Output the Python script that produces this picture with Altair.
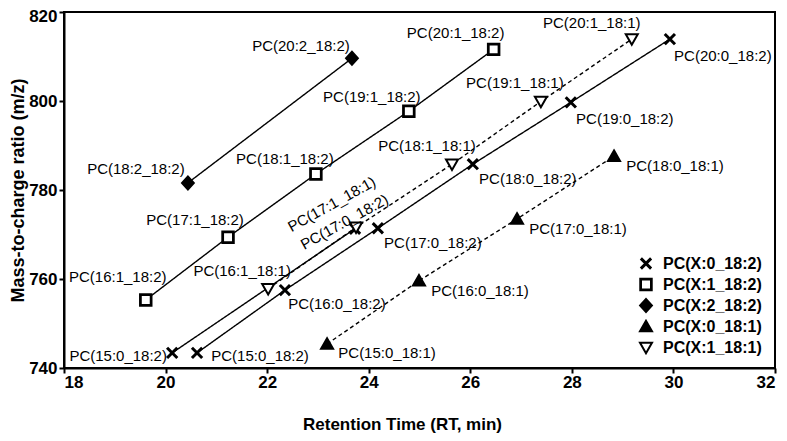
import altair as alt
import pandas as pd

FONT = "Liberation Sans"

# ---------------- data ----------------
series_names = ["PC(X:0_18:2)", "PC(X:1_18:2)", "PC(X:2_18:2)", "PC(X:0_18:1)", "PC(X:1_18:1)"]

# PC(X:0_18:2) main line
x0_182_rt = [20.62, 22.35, 24.18, 26.05, 27.98, 29.93]
x0_182_mz = [743.4, 757.5, 771.4, 785.8, 799.7, 813.9]
x0_182_lab = ["PC(15:0_18:2)", "PC(16:0_18:2)", "PC(17:0_18:2)", "PC(18:0_18:2)", "PC(19:0_18:2)", "PC(20:0_18:2)"]

# PC(X:0_18:2) second (earlier-eluting) line
x0_182b_rt = [20.13, 23.73]
x0_182b_mz = [743.4, 771.3]
x0_182b_lab = ["PC(15:0_18:2)", "PC(17:0_18:2)"]

# PC(X:1_18:2)
x1_182_rt = [19.61, 21.23, 22.96, 24.79, 26.46]
x1_182_mz = [755.3, 769.4, 783.6, 797.7, 811.6]
x1_182_lab = ["PC(16:1_18:2)", "PC(17:1_18:2)", "PC(18:1_18:2)", "PC(19:1_18:2)", "PC(20:1_18:2)"]

# PC(X:2_18:2)
x2_182_rt = [20.44, 23.67]
x2_182_mz = [781.6, 809.6]
x2_182_lab = ["PC(18:2_18:2)", "PC(20:2_18:2)"]

# PC(X:0_18:1)
x0_181_rt = [23.18, 24.99, 26.92, 28.83]
x0_181_mz = [745.4, 759.6, 773.5, 787.6]
x0_181_lab = ["PC(15:0_18:1)", "PC(16:0_18:1)", "PC(17:0_18:1)", "PC(18:0_18:1)"]

# PC(X:1_18:1)
x1_181_rt = [22.02, 23.75, 25.64, 27.39, 29.18]
x1_181_mz = [757.8, 771.6, 785.8, 799.9, 813.9]
x1_181_lab = ["PC(16:1_18:1)", "PC(17:1_18:1)", "PC(18:1_18:1)", "PC(19:1_18:1)", "PC(20:1_18:1)"]

# line id -> (series, rt, mz, labels)
lines = {
    "x0_182": ("PC(X:0_18:2)", x0_182_rt, x0_182_mz, x0_182_lab),
    "x0_182b": ("PC(X:0_18:2)", x0_182b_rt, x0_182b_mz, x0_182b_lab),
    "x1_182": ("PC(X:1_18:2)", x1_182_rt, x1_182_mz, x1_182_lab),
    "x2_182": ("PC(X:2_18:2)", x2_182_rt, x2_182_mz, x2_182_lab),
    "x0_181": ("PC(X:0_18:1)", x0_181_rt, x0_181_mz, x0_181_lab),
    "x1_181": ("PC(X:1_18:1)", x1_181_rt, x1_181_mz, x1_181_lab),
}

# ---------------- layout of the point labels (pixels) ----------------
# (dx, dy, angle) for each label, in order along each line
label_layout = {
    "x0_182": [(63, 3, 0), (52, 14, 0), (55, 15, 0), (55, 15, 0), (54, 17, 0), (53, 17, 0)],
    "x0_182b": [(-54, 3, 0), (-6, -11, 331)],
    "x1_182": [(-28, -23, 0), (-33, -17, 0), (-31, -15, 0), (-37, -14, 0), (-38, -16, 0)],
    "x2_182": [(-52, -14, 0), (-51, -12, 0)],
    "x0_181": [(60, 9, 0), (61, 10, 0), (61, 10, 0), (61, 10, 0)],
    "x1_181": [(-26, -18, 0), (-10, -32, 331), (-25, -18, 0), (-26, -18, 0), (-40, -16, 0)],
}

rows = []
for lid, (ser, rts, mzs, labs) in lines.items():
    for i, (r, m, l) in enumerate(zip(rts, mzs, labs)):
        rows.append({"line": lid, "series": ser, "rt": r, "mz": m, "label": l,
                     "key": f"{lid}_{i}",
                     "dash": "dashed" if ser.endswith("18:1)") else "solid"})
df = pd.DataFrame(rows)

# ---------------- marks ----------------
xs = alt.X("rt:Q", scale=alt.Scale(domain=[18, 32], nice=False),
           axis=alt.Axis(values=list(range(18, 33, 2)), title="Retention Time (RT, min)",
                         titleX=338))
ys = alt.Y("mz:Q", scale=alt.Scale(domain=[740, 820], nice=False),
           axis=alt.Axis(values=list(range(740, 821, 20)), title="Mass-to-charge ratio (m/z)",
                         titleFontSize=18,
                         labelBaseline={"condition": {"test": "datum.value == 820", "value": "top"},
                                        "value": "middle"},
                         labelOffset={"condition": {"test": "datum.value == 820", "value": -4},
                                      "value": 0}))

line_layer = alt.Chart(df).mark_line(color="black", strokeWidth=1.4).encode(
    x=xs, y=ys,
    detail="line:N",
    order="rt:Q",
    strokeDash=alt.StrokeDash("dash:N", scale=alt.Scale(domain=["solid", "dashed"],
                                                       range=[[1, 0], [4, 3]]), legend=None),
)

shape_paths = [
    "M-1,-1L1,1M-1,1L1,-1",                 # X
    "M-1,-1L1,-1L1,1L-1,1Z",                # open square
    "M0,-1.1L1,0L0,1.1L-1,0Z",              # filled diamond
    "M0,-0.95L1,0.8L-1,0.8Z",               # filled triangle up
    "M-1,-0.8L1,-0.8L0,0.95Z",              # open triangle down
]
sizes = [105, 144, 150, 150, 150]
fills = ["transparent", "white", "black", "black", "white"]
strokes = ["black"] * 5
widths = [3, 2, 1, 1, 1.6]

legend = alt.Legend(
    title=None, orient="none", legendX=574, legendY=243,
    labelFont=FONT, labelFontSize=16, labelFontWeight="bold", labelColor="black",
    rowPadding=4, clipHeight=17, labelOffset=9, padding=0,
)

point_layer = alt.Chart(df).mark_point(opacity=1).encode(
    x=xs, y=ys,
    shape=alt.Shape("series:N", scale=alt.Scale(domain=series_names, range=shape_paths), legend=legend),
    fill=alt.Fill("series:N", scale=alt.Scale(domain=series_names, range=fills), legend=legend),
    stroke=alt.Stroke("series:N", scale=alt.Scale(domain=series_names, range=strokes), legend=legend),
    strokeWidth=alt.StrokeWidth("series:N", scale=alt.Scale(domain=series_names, range=widths), legend=legend),
    size=alt.Size("series:N", scale=alt.Scale(domain=series_names, range=sizes), legend=legend),
)

text_layers = []
for lid, offs in label_layout.items():
    for i, (dx, dy, ang) in enumerate(offs):
        text_layers.append(
            alt.Chart(df).transform_filter(alt.datum.key == f"{lid}_{i}").mark_text(
                font=FONT, fontSize=15, color="black", align="center", baseline="middle",
                dx=dx, dy=dy, angle=ang,
            ).encode(x=xs, y=ys, text="label:N")
        )

chart = alt.layer(line_layer, point_layer, *text_layers).properties(
    width=711, height=356,
    autosize=alt.AutoSizeParams(type="none"),
    padding={"left": 56, "top": 4, "right": 4, "bottom": 65},
).configure_view(
    stroke="black", strokeWidth=2,
).configure_axis(
    grid=False,
    domainColor="black", domainWidth=2,
    tickColor="black", tickWidth=2, tickSize=5,
    labelFont=FONT, labelFontSize=17, labelFontWeight="bold", labelColor="black",
    titleFont=FONT, titleFontSize=17, titleFontWeight="bold", titleColor="black",
).configure_axisX(
    labelPadding=1, titlePadding=26,
).configure_axisY(
    labelPadding=2, titlePadding=1,
)

chart.save("out.html", embed_options={"renderer": "svg", "actions": False})
